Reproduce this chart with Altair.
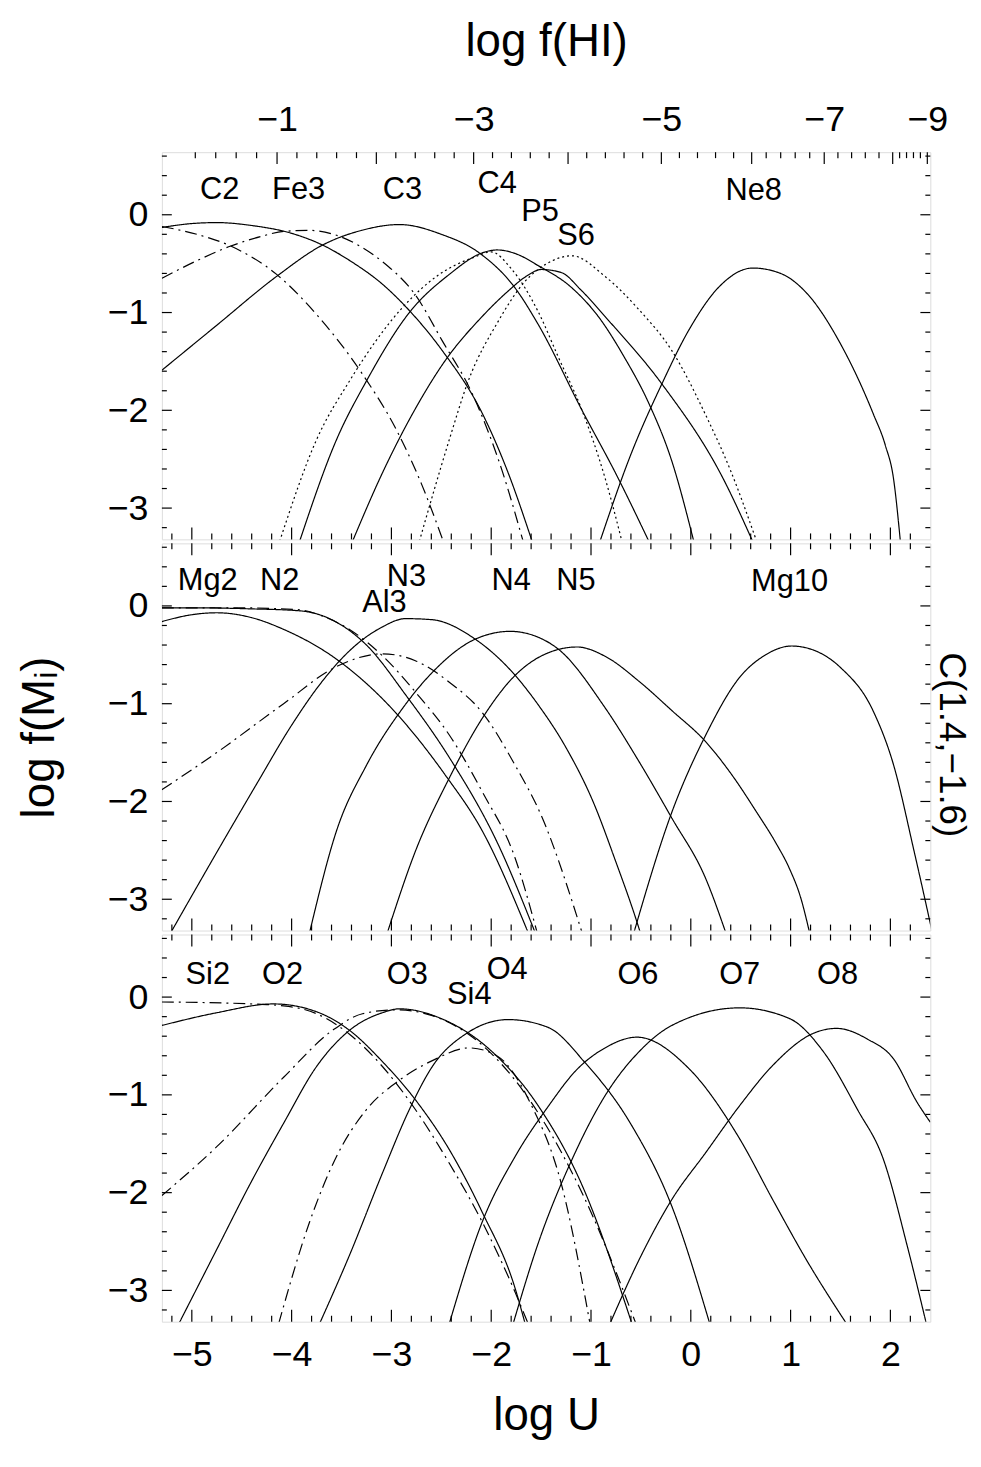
import json
import altair as alt
import pandas as pd

FONT = "Liberation Sans"
MINUS = "\u2212"

# ---------------- axes / scales ----------------
X_DOMAIN = [-5.3, 2.4]
Y_DOMAIN = [-3.32, 0.64]
X_MAJOR = [-5, -4, -3, -2, -1, 0, 1, 2]
Y_MAJOR = [-3, -2, -1, 0]
# top axis of the upper panel: log f(HI) values and where they fall in log U
FHI_VALUES = [0, -1, -2, -3, -4, -5, -6, -7, -8, -9]
FHI_AT_LOGU = [-5.17, -4.146, -3.151, -2.176, -1.230, -0.295, 0.610, 1.337, 2.023, 2.37]
FHI_LABELED = [-1, -3, -5, -7, -9]

X_TITLE = "log U"
Y_TITLE = "log f(M\u1d62)"
TOP_TITLE = "log f(HI)"
RIGHT_LABEL = "C(1.4," + MINUS + "1.6)"

# ---------------- panel 1 curves ----------------
C2_X = [-5.30, -5.00, -4.75, -4.40, -4.00, -3.69, -3.40, -3.09, -2.82, -2.49, -2.09, -1.83, -1.59]
C2_Y = [-0.13, -0.09, -0.08, -0.11, -0.19, -0.31, -0.48, -0.71, -0.98, -1.39, -2.03, -2.64, -3.34]
FE2_X = [-5.30, -4.95, -4.61, -4.15, -3.75, -3.29, -2.95, -2.70, -2.48]
FE2_Y = [-0.12, -0.20, -0.32, -0.61, -1.02, -1.63, -2.20, -2.75, -3.34]
FE3_X = [-5.30, -4.95, -4.61, -4.30, -4.08, -3.82, -3.55, -3.30, -3.09, -2.76, -2.49, -2.19, -1.89, -1.68]
FE3_Y = [-0.65, -0.47, -0.32, -0.22, -0.17, -0.16, -0.21, -0.33, -0.48, -0.82, -1.29, -1.83, -2.62, -3.34]
C3_X = [-5.30, -4.75, -4.15, -3.69, -3.30, -2.92, -2.50, -2.12, -1.76, -1.53, -1.09, -0.75, -0.42]
C3_Y = [-1.59, -1.13, -0.63, -0.31, -0.16, -0.10, -0.20, -0.39, -0.75, -1.12, -2.00, -2.65, -3.34]
SI4A_X = [-4.12, -3.75, -3.42, -2.89, -2.52, -2.16, -2.00, -1.80, -1.53, -1.33, -1.09, -0.86, -0.69]
SI4A_Y = [-3.34, -2.30, -1.70, -0.95, -0.61, -0.43, -0.38, -0.55, -0.99, -1.45, -2.00, -2.69, -3.34]
C4_X = [-3.92, -3.55, -3.25, -2.82, -2.42, -2.09, -1.94, -1.75, -1.53, -1.20, -0.92, -0.67, -0.42, -0.19, 0.03]
C4_Y = [-3.34, -2.30, -1.70, -1.00, -0.61, -0.39, -0.36, -0.40, -0.52, -0.74, -1.05, -1.45, -1.93, -2.52, -3.34]
P5_X = [-3.39, -3.09, -2.78, -2.46, -2.09, -1.83, -1.65, -1.50, -1.30, -1.10, -0.86, -0.29, 0.32, 0.62]
P5_Y = [-3.34, -2.64, -2.02, -1.49, -1.04, -0.78, -0.63, -0.56, -0.59, -0.77, -1.04, -1.73, -2.69, -3.34]
S6_X = [-2.72, -2.42, -2.23, -1.93, -1.66, -1.46, -1.19, -0.86, -0.52, -0.19, 0.15, 0.40, 0.66]
S6_Y = [-3.34, -2.30, -1.70, -1.09, -0.68, -0.51, -0.42, -0.63, -0.97, -1.39, -2.05, -2.62, -3.34]
NE8_X = [-0.91, -0.60, -0.29, -0.02, 0.29, 0.62, 0.90, 1.16, 1.50, 1.83, 1.95, 2.03, 2.10]
NE8_Y = [-3.34, -2.45, -1.73, -1.18, -0.73, -0.545, -0.60, -0.80, -1.32, -2.04, -2.36, -2.69, -3.34]

# ---------------- panel 2 curves ----------------
MG2_X = [-5.30, -5.00, -4.75, -4.40, -4.08, -3.55, -2.95, -2.46, -2.09, -1.63]
MG2_Y = [-0.16, -0.09, -0.07, -0.12, -0.24, -0.545, -1.10, -1.73, -2.30, -3.34]
N2_X = [-5.30, -4.90, -4.41, -3.92, -3.58, -3.25, -2.85, -2.42, -1.93, -1.56]
N2_Y = [-0.02, -0.02, -0.03, -0.05, -0.15, -0.40, -0.92, -1.55, -2.44, -3.34]
AL2_X = [-5.30, -4.50, -3.92, -3.70, -3.42, -3.09, -2.76, -2.42, -2.09, -1.76, -1.54]
AL2_Y = [-0.02, -0.02, -0.04, -0.10, -0.24, -0.51, -0.88, -1.32, -1.90, -2.58, -3.34]
AL3_X = [-5.30, -4.75, -4.08, -3.55, -3.09, -2.76, -2.42, -2.09, -1.76, -1.50, -1.09]
AL3_Y = [-1.88, -1.50, -1.00, -0.62, -0.49, -0.56, -0.78, -1.09, -1.63, -2.14, -3.34]
N3_X = [-5.21, -4.75, -4.35, -4.00, -3.70, -3.40, -3.10, -2.86, -2.60, -2.16, -1.76, -1.53, -1.25, -0.98, -0.75, -0.55, -0.50]
N3_Y = [-3.34, -2.52, -1.82, -1.22, -0.78, -0.44, -0.22, -0.13, -0.14, -0.34, -0.71, -1.01, -1.45, -2.00, -2.62, -3.20, -3.36]
N4_X = [-3.82, -3.55, -3.25, -2.89, -2.59, -2.16, -1.81, -1.53, -1.33, -0.86, -0.52, -0.19, 0.15, 0.35]
N4_Y = [-3.34, -2.30, -1.63, -1.05, -0.68, -0.34, -0.26, -0.32, -0.44, -1.04, -1.59, -2.17, -2.79, -3.34]
N5_X = [-3.04, -2.76, -2.42, -2.09, -1.76, -1.43, -1.14, -0.85, -0.52, -0.19, 0.15, 0.42, 0.66, 0.85, 0.99, 1.10, 1.19]
N5_Y = [-3.34, -2.51, -1.76, -1.15, -0.71, -0.48, -0.42, -0.52, -0.77, -1.07, -1.39, -1.74, -2.11, -2.42, -2.69, -2.98, -3.34]
MG10_X = [-0.57, -0.19, 0.15, 0.49, 0.75, 1.01, 1.25, 1.50, 1.83, 2.03, 2.24, 2.42]
MG10_Y = [-3.34, -2.11, -1.32, -0.73, -0.50, -0.41, -0.46, -0.63, -1.08, -1.62, -2.52, -3.34]

# ---------------- panel 3 curves ----------------
SI2_X = [-5.30, -4.41, -4.08, -3.75, -3.42, -3.09, -2.76, -2.42, -2.09, -1.76, -1.63]
SI2_Y = [-0.05, -0.07, -0.09, -0.17, -0.38, -0.71, -1.15, -1.70, -2.30, -3.02, -3.34]
O2_X = [-5.30, -4.75, -4.18, -3.75, -3.42, -3.09, -2.76, -2.42, -2.09, -1.76, -1.66]
O2_Y = [-0.29, -0.16, -0.07, -0.15, -0.34, -0.66, -1.05, -1.56, -2.20, -2.98, -3.34]
SI3_X = [-5.30, -4.75, -4.08, -3.59, -3.29, -2.95, -2.59, -2.20, -1.80, -1.40, -1.00, -0.55]
SI3_Y = [-2.03, -1.53, -0.82, -0.34, -0.17, -0.13, -0.19, -0.40, -0.80, -1.40, -2.20, -3.34]
O3_X = [-5.13, -4.75, -4.41, -4.08, -3.75, -3.42, -3.09, -2.92, -2.50, -2.00, -1.53, -1.10, -0.59]
O3_Y = [-3.34, -2.58, -1.90, -1.29, -0.71, -0.34, -0.16, -0.12, -0.22, -0.55, -1.11, -1.90, -3.34]
SI4_X = [-4.13, -3.82, -3.55, -3.25, -2.92, -2.59, -2.22, -1.93, -1.60, -1.30, -1.01]
SI4_Y = [-3.34, -2.30, -1.63, -1.15, -0.85, -0.65, -0.52, -0.61, -1.10, -1.90, -3.34]
O4_X = [-3.72, -3.42, -3.09, -2.82, -2.59, -2.26, -1.83, -1.43, -1.06, -0.60, -0.19, 0.19]
O4_Y = [-3.34, -2.64, -1.80, -1.15, -0.71, -0.38, -0.23, -0.31, -0.67, -1.30, -2.14, -3.34]
O6_X = [-2.42, -2.09, -1.76, -1.43, -1.15, -0.86, -0.54, -0.02, 0.49, 0.82, 1.16, 1.56]
O6_Y = [-3.34, -2.30, -1.63, -1.12, -0.75, -0.52, -0.41, -0.73, -1.45, -2.07, -2.69, -3.34]
O7_X = [-1.78, -1.53, -1.19, -0.86, -0.52, -0.19, 0.49, 0.99, 1.33, 1.67, 1.93, 2.17, 2.36]
O7_Y = [-3.34, -2.52, -1.66, -1.01, -0.56, -0.29, -0.11, -0.22, -0.56, -1.15, -1.66, -2.55, -3.34]
O8_X = [-0.81, -0.52, -0.19, 0.15, 0.49, 0.82, 1.23, 1.46, 1.77, 2.03, 2.27, 2.40]
O8_Y = [-3.34, -2.69, -2.07, -1.59, -1.11, -0.70, -0.37, -0.32, -0.43, -0.63, -1.08, -1.28]

# ---------------- ion labels ----------------
P1_LABELS = ["C2", "Fe3", "C3", "C4", "P5", "S6", "Ne8"]
P1_LX = [-4.72, -3.93, -2.89, -1.94, -1.51, -1.15, 0.63]
P1_LY = [0.25, 0.25, 0.25, 0.31, 0.03, -0.22, 0.24]
P2_LABELS = ["Mg2", "N2", "N3", "Al3", "N4", "N5", "Mg10"]
P2_LX = [-4.84, -4.12, -2.85, -3.07, -1.80, -1.15, 0.99]
P2_LY = [0.25, 0.25, 0.30, 0.03, 0.25, 0.25, 0.24]
P3_LABELS = ["Si2", "O2", "O3", "Si4", "O4", "O6", "O7", "O8"]
P3_LX = [-4.84, -4.09, -2.84, -2.22, -1.84, -0.53, 0.49, 1.47]
P3_LY = [0.23, 0.23, 0.23, 0.02, 0.28, 0.23, 0.23, 0.23]

PANEL1 = [("C2", "solid", C2_X, C2_Y), ("Fe2", "dashdot", FE2_X, FE2_Y),
          ("Fe3", "dashdot", FE3_X, FE3_Y), ("C3", "solid", C3_X, C3_Y),
          ("Si4", "dot", SI4A_X, SI4A_Y), ("C4", "solid", C4_X, C4_Y),
          ("P5", "solid", P5_X, P5_Y), ("S6", "dot", S6_X, S6_Y),
          ("Ne8", "solid", NE8_X, NE8_Y)]
PANEL2 = [("Mg2", "solid", MG2_X, MG2_Y), ("N2", "solid", N2_X, N2_Y),
          ("Al2", "dashdot", AL2_X, AL2_Y), ("Al3", "dashdot", AL3_X, AL3_Y),
          ("N3", "solid", N3_X, N3_Y), ("N4", "solid", N4_X, N4_Y),
          ("N5", "solid", N5_X, N5_Y), ("Mg10", "solid", MG10_X, MG10_Y)]
PANEL3 = [("Si2", "dashdot", SI2_X, SI2_Y), ("O2", "solid", O2_X, O2_Y),
          ("Si3", "dashdot", SI3_X, SI3_Y), ("O3", "solid", O3_X, O3_Y),
          ("Si4", "dashdot", SI4_X, SI4_Y), ("O4", "solid", O4_X, O4_Y),
          ("O6", "solid", O6_X, O6_Y), ("O7", "solid", O7_X, O7_Y),
          ("O8", "solid", O8_X, O8_Y)]

# ---------------- styling ----------------
W, H = 774, 390
LW = 1.2
TICK_W = 1.2
MAJ_LEN, MIN_LEN = 12, 6
Y_MAJ_LEN, Y_MIN_LEN = 10, 5
TICK_FS = 36
TITLE_FS = 46
ION_FS = 31

XS = alt.Scale(domain=X_DOMAIN, nice=False, zero=False)
YS = alt.Scale(domain=Y_DOMAIN, nice=False, zero=False)
DASH = alt.Scale(domain=["solid", "dot", "dashdot"], range=[[1, 0], [2, 3], [12, 5, 2, 5]])


def minor_ticks(major, lo, hi, step=0.2):
    out = []
    v = lo
    while v <= hi + 1e-9:
        if all(abs(v - m) > 1e-6 for m in major):
            out.append(round(v, 3))
        v += step
    return out


X_MINOR = minor_ticks(X_MAJOR, -5.2, 2.2)
Y_MINOR = minor_ticks(Y_MAJOR, -3.2, 0.6)
FHI_MINOR = []
for a, b in zip(FHI_AT_LOGU[:-1], FHI_AT_LOGU[1:]):
    for k in range(1, 5):
        FHI_MINOR.append(a + (b - a) * k / 5)

fhi_pos_labeled = [FHI_AT_LOGU[FHI_VALUES.index(v)] for v in FHI_LABELED]
fhi_text = [MINUS + str(abs(v)) for v in FHI_LABELED]
FHI_LABEL_EXPR = "%s[indexof(%s, datum.value)]" % (json.dumps(fhi_text, ensure_ascii=False),
                                                   json.dumps(fhi_pos_labeled))


def axis_common(**kw):
    base = dict(ticks=False, domain=False, grid=False, labelFont=FONT, labelFontSize=TICK_FS,
                labelColor="black", labelFlush=False, labelOverlap=False,
                titleFont=FONT, titleFontSize=TITLE_FS, titleFontWeight="normal", titleColor="black")
    base.update(kw)
    return alt.Axis(**base)


def panel(curves, labels, lx, ly, xaxis, yaxis, top_fhi=False, extra=None):
    def xenc(field):
        return alt.X(field + ":Q", scale=XS, axis=xaxis)

    def yenc(field):
        return alt.Y(field + ":Q", scale=YS, axis=yaxis)

    def xrules(vals, length, side):
        df = pd.DataFrame({"v": vals})
        y0, y1 = (H, H - length) if side == "bottom" else (0, length)
        return alt.Chart(df).mark_rule(color="black", strokeWidth=TICK_W).encode(
            x=xenc("v"), y=alt.value(y0), y2=alt.value(y1))

    def yrules(vals, length, side):
        df = pd.DataFrame({"v": vals})
        x0, x1 = (0, length) if side == "left" else (W, W - length)
        return alt.Chart(df).mark_rule(color="black", strokeWidth=TICK_W).encode(
            y=yenc("v"), x=alt.value(x0), x2=alt.value(x1))

    rows = []
    for name, style, xs, ys in curves:
        for a, b in zip(xs, ys):
            rows.append({"ion": name, "style": style, "x": a, "y": b})
    df = pd.DataFrame(rows)
    lines = alt.Chart(df).mark_line(color="black", strokeWidth=LW, clip=True,
                                    interpolate="monotone").encode(
        x=xenc("x"), y=yenc("y"), detail="ion:N",
        strokeDash=alt.StrokeDash("style:N", scale=DASH, legend=None),
    )
    ldf = pd.DataFrame({"t": labels, "x": lx, "y": ly})
    text = alt.Chart(ldf).mark_text(font=FONT, fontSize=ION_FS, color="black",
                                    align="center", baseline="middle").encode(
        x=xenc("x"), y=yenc("y"), text="t:N")
    layers = [lines, text,
              xrules(X_MAJOR, MAJ_LEN, "bottom"), xrules(X_MINOR, MIN_LEN, "bottom"),
              yrules(Y_MAJOR, Y_MAJ_LEN, "left"), yrules(Y_MINOR, Y_MIN_LEN, "left"),
              yrules(Y_MAJOR, Y_MAJ_LEN, "right"), yrules(Y_MINOR, Y_MIN_LEN, "right")]
    if top_fhi:
        layers += [xrules(FHI_AT_LOGU[1:], MAJ_LEN, "top"), xrules(FHI_MINOR, MIN_LEN, "top")]
    else:
        layers += [xrules(X_MAJOR, MAJ_LEN, "top"), xrules(X_MINOR, MIN_LEN, "top")]
    if extra is not None:
        layers.append(extra)
    return alt.layer(*layers).properties(width=W, height=H)


yaxis_plain = axis_common(values=Y_MAJOR, format="d", labelPadding=14, title=None)
yaxis_title = axis_common(values=Y_MAJOR, format="d", labelPadding=14, title=Y_TITLE, titlePadding=44)

xaxis_top = axis_common(orient="top", values=fhi_pos_labeled, labelExpr=FHI_LABEL_EXPR,
                        labelPadding=14, title=TOP_TITLE, titlePadding=36)
xaxis_bottom = axis_common(orient="bottom", values=X_MAJOR, format="d", labelPadding=16,
                           title=X_TITLE, titlePadding=22)

right_text = alt.Chart(pd.DataFrame({"t": [RIGHT_LABEL]})).mark_text(
    font=FONT, fontSize=37, angle=90, align="center", baseline="middle", color="black").encode(
    text="t:N", x=alt.value(W + 21), y=alt.value(H / 2 + 8))

p1 = panel(PANEL1, P1_LABELS, P1_LX, P1_LY, xaxis_top, yaxis_plain, top_fhi=True)
p2 = panel(PANEL2, P2_LABELS, P2_LX, P2_LY, None, yaxis_title, extra=right_text)
p3 = panel(PANEL3, P3_LABELS, P3_LX, P3_LY, xaxis_bottom, yaxis_plain)

chart = alt.vconcat(p1, p2, p3, spacing=0).properties(
    padding={"left": 8, "top": 5, "right": 2, "bottom": 5}
).configure_view(stroke="black", strokeWidth=1.5).configure(background="white")

chart.save("out.html", embed_options={"renderer": "svg", "actions": False})
